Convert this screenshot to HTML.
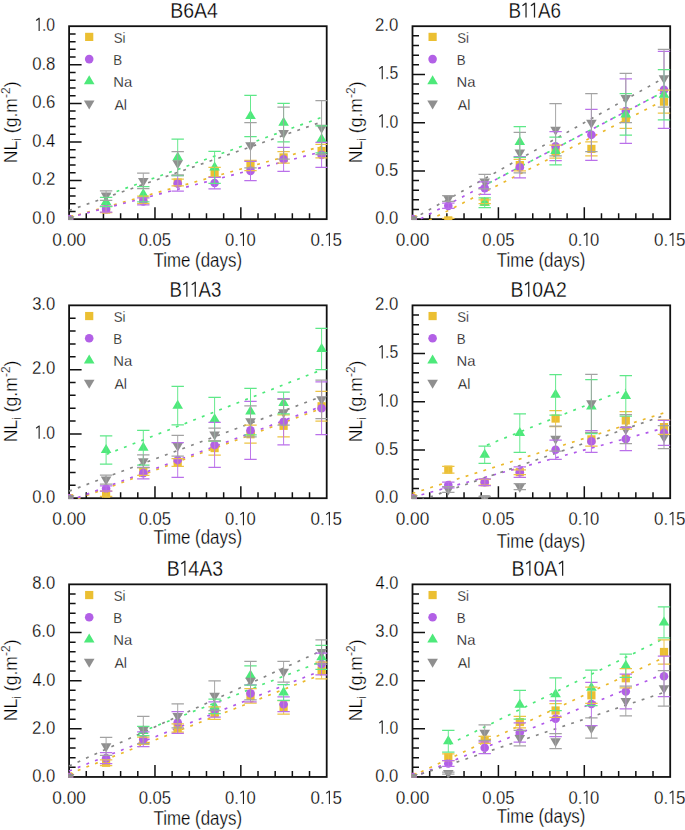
<!DOCTYPE html><html><head><meta charset="utf-8"><style>html,body{margin:0;padding:0;background:#fff;}body{width:685px;height:830px;overflow:hidden;}svg{display:block;}text{font-family:"Liberation Sans",sans-serif;fill:#000000;stroke:#fff;stroke-width:0.28px;}</style></head><body>
<svg width="685" height="830" viewBox="0 0 685 830">
<rect width="685" height="830" fill="#fff"/>
<defs><clipPath id="c0"><rect x="68.2" y="25.3" width="259.4" height="194.75"/></clipPath><clipPath id="c1"><rect x="411.6" y="25.3" width="259.5" height="194.75"/></clipPath><clipPath id="c2"><rect x="68.2" y="304.45" width="259.4" height="194.65"/></clipPath><clipPath id="c3"><rect x="411.6" y="304.45" width="259.5" height="194.65"/></clipPath><clipPath id="c4"><rect x="68.2" y="583.45" width="259.4" height="194.4"/></clipPath><clipPath id="c5"><rect x="411.6" y="583.45" width="259.5" height="194.4"/></clipPath></defs>
<path d="M69.1 211.43H75.6M69.1 203.71H75.6M69.1 196H75.6M69.1 188.28H75.6M69.1 180.56H81.6M69.1 172.84H75.6M69.1 165.12H75.6M69.1 157.41H75.6M69.1 149.69H75.6M69.1 141.97H81.6M69.1 134.25H75.6M69.1 126.53H75.6M69.1 118.82H75.6M69.1 111.1H75.6M69.1 103.38H81.6M69.1 95.66H75.6M69.1 87.94H75.6M69.1 80.23H75.6M69.1 72.51H75.6M69.1 64.79H81.6M69.1 57.07H75.6M69.1 49.35H75.6M69.1 41.64H75.6M69.1 33.92H75.6M86.27 219.15V213.15M103.45 219.15V213.15M120.62 219.15V213.15M137.79 219.15V213.15M154.97 219.15V207.15M172.14 219.15V213.15M189.31 219.15V213.15M206.49 219.15V213.15M223.66 219.15V213.15M240.83 219.15V207.15M258.01 219.15V213.15M275.18 219.15V213.15M292.35 219.15V213.15M309.53 219.15V213.15" stroke="#111111" stroke-width="1.5" fill="none"/><rect x="69.1" y="26.2" width="257.6" height="192.95" fill="none" stroke="#111111" stroke-width="1.8"/><g clip-path="url(#c0)" fill="none" stroke-width="1.65" stroke-dasharray="2.9 6.4"><path d="M69.1 217.32L321.6 146.39" stroke="#EBB92C"/><path d="M69.1 217.61L321.6 151.79" stroke="#B058EA"/><path d="M106.1 195.34L321.6 117.38" stroke="#4DE97A" stroke-dashoffset="7.44"/><path d="M69.1 210.47L321.6 121.95" stroke="#858585"/></g><g clip-path="url(#c0)"><rect x="65" y="215.05" width="8.2" height="8.2" fill="#EBBF32"/><rect x="102" y="205.4" width="8.2" height="8.2" fill="#EBBF32"/><rect x="139.2" y="195.76" width="8.2" height="8.2" fill="#EBBF32"/><rect x="173.6" y="178.39" width="8.2" height="8.2" fill="#EBBF32"/><rect x="210.5" y="167.78" width="8.2" height="8.2" fill="#EBBF32"/><rect x="246.4" y="161.41" width="8.2" height="8.2" fill="#EBBF32"/><rect x="279.5" y="153.31" width="8.2" height="8.2" fill="#EBBF32"/><rect x="317.5" y="146.94" width="8.2" height="8.2" fill="#EBBF32"/><circle cx="69.1" cy="219.15" r="4.3" fill="#B260E6"/><circle cx="106.1" cy="209.12" r="4.3" fill="#B260E6"/><circle cx="143.3" cy="201.4" r="4.3" fill="#B260E6"/><circle cx="177.7" cy="183.45" r="4.3" fill="#B260E6"/><circle cx="214.6" cy="183.07" r="4.3" fill="#B260E6"/><circle cx="250.5" cy="170.91" r="4.3" fill="#B260E6"/><circle cx="283.6" cy="159.34" r="4.3" fill="#B260E6"/><circle cx="321.6" cy="154.9" r="4.3" fill="#B260E6"/><path d="M106.1 195.98L111.4 204.98L100.8 204.98Z" fill="#4DE97A"/><path d="M143.3 188.26L148.6 197.26L138 197.26Z" fill="#4DE97A"/><path d="M177.7 151.41L183 160.41L172.4 160.41Z" fill="#4DE97A"/><path d="M214.6 161.44L219.9 170.44L209.3 170.44Z" fill="#4DE97A"/><path d="M250.5 109.92L255.8 118.92L245.2 118.92Z" fill="#4DE97A"/><path d="M283.6 116.67L288.9 125.67L278.3 125.67Z" fill="#4DE97A"/><path d="M321.6 133.27L326.9 142.27L316.3 142.27Z" fill="#4DE97A"/><path d="M63.8 216.15L74.4 216.15L69.1 225.15Z" fill="#8F8F8F"/><path d="M100.8 192.61L111.4 192.61L106.1 201.61Z" fill="#8F8F8F"/><path d="M138 177.95L148.6 177.95L143.3 186.95Z" fill="#8F8F8F"/><path d="M172.4 160.19L183 160.19L177.7 169.19Z" fill="#8F8F8F"/><path d="M245.2 142.25L255.8 142.25L250.5 151.25Z" fill="#8F8F8F"/><path d="M278.3 130.09L288.9 130.09L283.6 139.09Z" fill="#8F8F8F"/><path d="M316.3 124.69L326.9 124.69L321.6 133.69Z" fill="#8F8F8F"/></g><g clip-path="url(#c0)" fill="none"><path d="M106.1 206.42V212.59M143.3 196V203.71M177.7 179.02V185.96M214.6 167.25V176.51M250.5 160.3V170.72M283.6 151.62V163.19M321.6 144.29V157.79" stroke="#EDC445" stroke-width="0.95"/><path d="M99.9 206.42H112.3M99.9 212.59H112.3M137.1 196H149.5M137.1 203.71H149.5M171.5 179.02H183.9M171.5 185.96H183.9M208.4 167.25H220.8M208.4 176.51H220.8M244.3 160.3H256.7M244.3 170.72H256.7M277.4 151.62H289.8M277.4 163.19H289.8M315.4 144.29H327.8M315.4 157.79H327.8" stroke="#EDC445" stroke-width="1.25"/><path d="M106.1 206.22V212.01M143.3 197.93V204.87M177.7 175.74V191.17M214.6 177.28V188.86M250.5 161.26V180.56M283.6 147.37V171.3M321.6 142.36V167.44" stroke="#BA70EA" stroke-width="0.95"/><path d="M99.9 206.22H112.3M99.9 212.01H112.3M137.1 197.93H149.5M137.1 204.87H149.5M171.5 175.74H183.9M171.5 191.17H183.9M208.4 177.28H220.8M208.4 188.86H220.8M244.3 161.26H256.7M244.3 180.56H256.7M277.4 147.37H289.8M277.4 171.3H289.8M315.4 142.36H327.8M315.4 167.44H327.8" stroke="#BA70EA" stroke-width="1.25"/><path d="M106.1 197.35V206.61M143.3 186.54V201.98M177.7 139.08V175.74M214.6 151.42V183.45M250.5 95.28V136.57M283.6 103.38V141.97M321.6 125.76V152.78" stroke="#5EE888" stroke-width="0.95"/><path d="M99.9 197.35H112.3M99.9 206.61H112.3M137.1 186.54H149.5M137.1 201.98H149.5M171.5 139.08H183.9M171.5 175.74H183.9M208.4 151.42H220.8M208.4 183.45H220.8M244.3 95.28H256.7M244.3 136.57H256.7M277.4 103.38H289.8M277.4 141.97H289.8M315.4 125.76H327.8M315.4 152.78H327.8" stroke="#5EE888" stroke-width="1.25"/><path d="M106.1 190.79V200.43M143.3 173.23V188.66M177.7 151.62V174.77M250.5 122.67V167.83M283.6 107.05V159.14M321.6 100.68V154.7" stroke="#A2A2A2" stroke-width="0.95"/><path d="M99.9 190.79H112.3M99.9 200.43H112.3M137.1 173.23H149.5M137.1 188.66H149.5M171.5 151.62H183.9M171.5 174.77H183.9M244.3 122.67H256.7M244.3 167.83H256.7M277.4 107.05H289.8M277.4 159.14H289.8M315.4 100.68H327.8M315.4 154.7H327.8" stroke="#A2A2A2" stroke-width="1.25"/></g><text x="32.13" y="224" font-size="19.2" textLength="23.13" lengthAdjust="spacingAndGlyphs">0.0</text><text x="32.13" y="185.41" font-size="19.2" textLength="23.31" lengthAdjust="spacingAndGlyphs">0.2</text><text x="32.14" y="146.82" font-size="19.2" textLength="22.96" lengthAdjust="spacingAndGlyphs">0.4</text><text x="32.13" y="108.23" font-size="19.2" textLength="23.31" lengthAdjust="spacingAndGlyphs">0.6</text><text x="32.13" y="69.64" font-size="19.2" textLength="23.31" lengthAdjust="spacingAndGlyphs">0.8</text><path d="M36.16 20.49L39.15 18.19M39.15 17.8V31.05" stroke="#222" stroke-width="1.11" fill="none"/><text x="41.99" y="31.05" font-size="19.2" textLength="13.15" lengthAdjust="spacingAndGlyphs">.0</text><text x="52.26" y="246.1" font-size="19.2" textLength="33.62" lengthAdjust="spacingAndGlyphs">0.00</text><text x="138.7" y="246.1" font-size="19.2" textLength="32.47" lengthAdjust="spacingAndGlyphs">0.05</text><text x="225.12" y="246.1" font-size="19.2" textLength="13.85" lengthAdjust="spacingAndGlyphs">0.</text><path d="M240.3 235.54L243.46 233.24M243.46 232.85V246.1" stroke="#222" stroke-width="1.11" fill="none"/><text x="246.45" y="246.1" font-size="19.2" textLength="9.24" lengthAdjust="spacingAndGlyphs">0</text><text x="310.62" y="246.1" font-size="19.2" textLength="14.18" lengthAdjust="spacingAndGlyphs">0.</text><path d="M326.16 235.54L329.4 233.24M329.4 232.85V246.1" stroke="#222" stroke-width="1.11" fill="none"/><text x="332.46" y="246.1" font-size="19.2" textLength="9.46" lengthAdjust="spacingAndGlyphs">5</text><text x="170.24" y="17.6" font-size="21.6" textLength="47.67" lengthAdjust="spacingAndGlyphs">B6A4</text><text x="153.46" y="266.95" font-size="19.5" textLength="88.57" lengthAdjust="spacingAndGlyphs">Time (days)</text><text transform="translate(16.9 122.38) rotate(-90)" font-size="17.6" text-anchor="middle">NL<tspan font-size="12" dy="4">i</tspan><tspan dy="-4"> (g.m</tspan><tspan font-size="12" dy="-7">-2</tspan><tspan dy="7">)</tspan></text><rect x="85.1" y="32.8" width="8.2" height="8.2" fill="#EBBF32"/><text x="113.74" y="42.8" font-size="15" textLength="11.74" lengthAdjust="spacingAndGlyphs">Si</text><circle cx="89.2" cy="59.1" r="4.3" fill="#B260E6"/><text x="113.33" y="65.07" font-size="15" textLength="8.89" lengthAdjust="spacingAndGlyphs">B</text><path d="M89.2 75.3L94.5 84.3L83.9 84.3Z" fill="#4DE97A"/><text x="113.21" y="87.34" font-size="15" textLength="18.96" lengthAdjust="spacingAndGlyphs">Na</text><path d="M83.9 100.5L94.5 100.5L89.2 109.5Z" fill="#8F8F8F"/><text x="114.4" y="109.61" font-size="15" textLength="12.64" lengthAdjust="spacingAndGlyphs">Al</text>
<path d="M412.5 209.5H419M412.5 199.86H419M412.5 190.21H419M412.5 180.56H419M412.5 170.91H425M412.5 161.26H419M412.5 151.62H419M412.5 141.97H419M412.5 132.32H419M412.5 122.67H425M412.5 113.03H419M412.5 103.38H419M412.5 93.73H419M412.5 84.08H419M412.5 74.44H425M412.5 64.79H419M412.5 55.14H419M412.5 45.49H419M412.5 35.85H419M429.68 219.15V213.15M446.86 219.15V213.15M464.04 219.15V213.15M481.22 219.15V213.15M498.4 219.15V207.15M515.58 219.15V213.15M532.76 219.15V213.15M549.94 219.15V213.15M567.12 219.15V213.15M584.3 219.15V207.15M601.48 219.15V213.15M618.66 219.15V213.15M635.84 219.15V213.15M653.02 219.15V213.15" stroke="#111111" stroke-width="1.5" fill="none"/><rect x="412.5" y="26.2" width="257.7" height="192.95" fill="none" stroke="#111111" stroke-width="1.8"/><g clip-path="url(#c1)" fill="none" stroke-width="1.65" stroke-dasharray="2.9 6.4"><path d="M412.5 228.8L664 100.28" stroke="#EBB92C"/><path d="M412.5 223.01L664 91.66" stroke="#B058EA"/><path d="M484.7 185.3L664 91.66" stroke="#4DE97A" stroke-dashoffset="4.15"/><path d="M412.5 219.15L664 77.92" stroke="#858585"/></g><g clip-path="url(#c1)"><rect x="408.4" y="215.05" width="8.2" height="8.2" fill="#EBBF32"/><rect x="444.2" y="216.3" width="8.2" height="8.2" fill="#EBBF32"/><rect x="480.6" y="197.68" width="8.2" height="8.2" fill="#EBBF32"/><rect x="515.7" y="161.02" width="8.2" height="8.2" fill="#EBBF32"/><rect x="551.5" y="147.52" width="8.2" height="8.2" fill="#EBBF32"/><rect x="587.3" y="144.82" width="8.2" height="8.2" fill="#EBBF32"/><rect x="621.7" y="114.72" width="8.2" height="8.2" fill="#EBBF32"/><rect x="659.9" y="97.54" width="8.2" height="8.2" fill="#EBBF32"/><circle cx="412.5" cy="219.15" r="4.3" fill="#B260E6"/><circle cx="448.3" cy="205.84" r="4.3" fill="#B260E6"/><circle cx="484.7" cy="188.09" r="4.3" fill="#B260E6"/><circle cx="519.8" cy="167.34" r="4.3" fill="#B260E6"/><circle cx="555.6" cy="146.21" r="4.3" fill="#B260E6"/><circle cx="591.4" cy="134.83" r="4.3" fill="#B260E6"/><circle cx="625.8" cy="111.1" r="4.3" fill="#B260E6"/><circle cx="664" cy="89.87" r="4.3" fill="#B260E6"/><path d="M484.7 196.75L490 205.75L479.4 205.75Z" fill="#4DE97A"/><path d="M519.8 135.97L525.1 144.97L514.5 144.97Z" fill="#4DE97A"/><path d="M555.6 144.94L560.9 153.94L550.3 153.94Z" fill="#4DE97A"/><path d="M625.8 108.38L631.1 117.38L620.5 117.38Z" fill="#4DE97A"/><path d="M664 88.7L669.3 97.7L658.7 97.7Z" fill="#4DE97A"/><path d="M407.2 216.15L417.8 216.15L412.5 225.15Z" fill="#8F8F8F"/><path d="M443 195.41L453.6 195.41L448.3 204.41Z" fill="#8F8F8F"/><path d="M479.4 178.62L490 178.62L484.7 187.62Z" fill="#8F8F8F"/><path d="M514.5 149.58L525.1 149.58L519.8 158.58Z" fill="#8F8F8F"/><path d="M550.3 126.72L560.9 126.72L555.6 135.72Z" fill="#8F8F8F"/><path d="M586.1 119.67L596.7 119.67L591.4 128.68Z" fill="#8F8F8F"/><path d="M620.5 95.07L631.1 95.07L625.8 104.07Z" fill="#8F8F8F"/><path d="M658.7 75.3L669.3 75.3L664 84.3Z" fill="#8F8F8F"/></g><g clip-path="url(#c1)" fill="none"><path d="M448.3 218.47V222.33M484.7 199.86V203.71M519.8 159.34V170.91M555.6 145.15V158.08M591.4 141.97V155.86M625.8 109.17V128.46M664 90.07V113.22" stroke="#EDC445" stroke-width="0.95"/><path d="M442.1 218.47H454.5M442.1 222.33H454.5M478.5 199.86H490.9M478.5 203.71H490.9M513.6 159.34H526M513.6 170.91H526M549.4 145.15H561.8M549.4 158.08H561.8M585.2 141.97H597.6M585.2 155.86H597.6M619.6 109.17H632M619.6 128.46H632M657.8 90.07H670.2M657.8 113.22H670.2" stroke="#EDC445" stroke-width="1.25"/><path d="M448.3 203.23V208.44M484.7 181.81V194.36M519.8 156.73V177.96M555.6 131.74V160.69M591.4 109.26V160.4M625.8 78.78V143.42M664 51.28V128.46" stroke="#BA70EA" stroke-width="0.95"/><path d="M442.1 203.23H454.5M442.1 208.44H454.5M478.5 181.81H490.9M478.5 194.36H490.9M513.6 156.73H526M513.6 177.96H526M549.4 131.74H561.8M549.4 160.69H561.8M585.2 109.26H597.6M585.2 160.4H597.6M619.6 78.78H632M619.6 143.42H632M657.8 51.28H670.2M657.8 128.46H670.2" stroke="#BA70EA" stroke-width="1.25"/><path d="M484.7 197.93V207.57M519.8 126.53V157.41M555.6 137.05V164.83M625.8 93.64V135.12M664 69.61V119.78" stroke="#5EE888" stroke-width="0.95"/><path d="M478.5 197.93H490.9M478.5 207.57H490.9M513.6 126.53H526M513.6 157.41H526M549.4 137.05H561.8M549.4 164.83H561.8M619.6 93.64H632M619.6 135.12H632M657.8 69.61H670.2M657.8 119.78H670.2" stroke="#5EE888" stroke-width="1.25"/><path d="M448.3 195.51V201.3M484.7 174.29V188.95M519.8 132.32V172.84M555.6 103.67V155.77M591.4 93.73V151.62M625.8 73.47V122.68M664 49.35V107.24" stroke="#A2A2A2" stroke-width="0.95"/><path d="M442.1 195.51H454.5M442.1 201.3H454.5M478.5 174.29H490.9M478.5 188.95H490.9M513.6 132.32H526M513.6 172.84H526M549.4 103.67H561.8M549.4 155.77H561.8M585.2 93.73H597.6M585.2 151.62H597.6M619.6 73.47H632M619.6 122.68H632M657.8 49.35H670.2M657.8 107.24H670.2" stroke="#A2A2A2" stroke-width="1.25"/></g><text x="375.23" y="224" font-size="19.2" textLength="23.13" lengthAdjust="spacingAndGlyphs">0.0</text><text x="375.23" y="175.76" font-size="19.2" textLength="23.13" lengthAdjust="spacingAndGlyphs">0.5</text><path d="M379.26 116.96L382.25 114.66M382.25 114.28V127.52" stroke="#222" stroke-width="1.11" fill="none"/><text x="385.09" y="127.52" font-size="19.2" textLength="13.15" lengthAdjust="spacingAndGlyphs">.0</text><path d="M379.26 68.73L382.25 66.42M382.25 66.04V79.29" stroke="#222" stroke-width="1.11" fill="none"/><text x="385.09" y="79.29" font-size="19.2" textLength="13.15" lengthAdjust="spacingAndGlyphs">.5</text><text x="375.06" y="31.05" font-size="19.2" textLength="23.31" lengthAdjust="spacingAndGlyphs">2.0</text><text x="395.66" y="246.1" font-size="19.2" textLength="33.62" lengthAdjust="spacingAndGlyphs">0.00</text><text x="482.13" y="246.1" font-size="19.2" textLength="32.47" lengthAdjust="spacingAndGlyphs">0.05</text><text x="568.59" y="246.1" font-size="19.2" textLength="13.85" lengthAdjust="spacingAndGlyphs">0.</text><path d="M583.77 235.54L586.92 233.24M586.92 232.85V246.1" stroke="#222" stroke-width="1.11" fill="none"/><text x="589.91" y="246.1" font-size="19.2" textLength="9.24" lengthAdjust="spacingAndGlyphs">0</text><text x="654.12" y="246.1" font-size="19.2" textLength="14.18" lengthAdjust="spacingAndGlyphs">0.</text><path d="M669.66 235.54L672.9 233.24M672.9 232.85V246.1" stroke="#222" stroke-width="1.11" fill="none"/><text x="675.96" y="246.1" font-size="19.2" textLength="9.46" lengthAdjust="spacingAndGlyphs">5</text><text x="508.39" y="17.6" font-size="21.6" textLength="12.55" lengthAdjust="spacingAndGlyphs">B</text><path d="M522.45 5.72L526.03 3.13M526.03 2.7V17.6" stroke="#222" stroke-width="1.25" fill="none"/><path d="M530.92 5.72L534.5 3.13M534.5 2.7V17.6" stroke="#222" stroke-width="1.25" fill="none"/><text x="537.89" y="17.6" font-size="21.6" textLength="23.02" lengthAdjust="spacingAndGlyphs">A6</text><text x="496.86" y="266.95" font-size="19.5" textLength="88.57" lengthAdjust="spacingAndGlyphs">Time (days)</text><text transform="translate(361.6 122.38) rotate(-90)" font-size="17.6" text-anchor="middle">NL<tspan font-size="12" dy="4">i</tspan><tspan dy="-4"> (g.m</tspan><tspan font-size="12" dy="-7">-2</tspan><tspan dy="7">)</tspan></text><rect x="428.5" y="32.8" width="8.2" height="8.2" fill="#EBBF32"/><text x="457.14" y="42.8" font-size="15" textLength="11.74" lengthAdjust="spacingAndGlyphs">Si</text><circle cx="432.6" cy="59.1" r="4.3" fill="#B260E6"/><text x="456.73" y="65.07" font-size="15" textLength="8.89" lengthAdjust="spacingAndGlyphs">B</text><path d="M432.6 75.3L437.9 84.3L427.3 84.3Z" fill="#4DE97A"/><text x="456.61" y="87.34" font-size="15" textLength="18.96" lengthAdjust="spacingAndGlyphs">Na</text><path d="M427.3 100.5L437.9 100.5L432.6 109.5Z" fill="#8F8F8F"/><text x="457.8" y="109.61" font-size="15" textLength="12.64" lengthAdjust="spacingAndGlyphs">Al</text>
<path d="M69.1 485.34H75.6M69.1 472.49H75.6M69.1 459.63H75.6M69.1 446.77H75.6M69.1 433.92H81.6M69.1 421.06H75.6M69.1 408.2H75.6M69.1 395.35H75.6M69.1 382.49H75.6M69.1 369.63H81.6M69.1 356.78H75.6M69.1 343.92H75.6M69.1 331.06H75.6M69.1 318.21H75.6M86.27 498.2V492.2M103.45 498.2V492.2M120.62 498.2V492.2M137.79 498.2V492.2M154.97 498.2V486.2M172.14 498.2V492.2M189.31 498.2V492.2M206.49 498.2V492.2M223.66 498.2V492.2M240.83 498.2V486.2M258.01 498.2V492.2M275.18 498.2V492.2M292.35 498.2V492.2M309.53 498.2V492.2" stroke="#111111" stroke-width="1.5" fill="none"/><rect x="69.1" y="305.35" width="257.6" height="192.85" fill="none" stroke="#111111" stroke-width="1.8"/><g clip-path="url(#c2)" fill="none" stroke-width="1.65" stroke-dasharray="2.9 6.4"><path d="M69.1 502.06L321.6 408.49" stroke="#EBB92C"/><path d="M69.1 500.9L321.6 406.38" stroke="#B058EA"/><path d="M106.1 454.49L321.6 369.87" stroke="#4DE97A" stroke-dashoffset="8.71"/><path d="M69.1 491.13L321.6 396.61" stroke="#858585"/></g><g clip-path="url(#c2)"><rect x="65" y="494.1" width="8.2" height="8.2" fill="#EBBF32"/><rect x="102" y="489.6" width="8.2" height="8.2" fill="#EBBF32"/><rect x="139.2" y="467.49" width="8.2" height="8.2" fill="#EBBF32"/><rect x="173.6" y="458.42" width="8.2" height="8.2" fill="#EBBF32"/><rect x="210.5" y="443.96" width="8.2" height="8.2" fill="#EBBF32"/><rect x="246.4" y="430.14" width="8.2" height="8.2" fill="#EBBF32"/><rect x="279.5" y="421.72" width="8.2" height="8.2" fill="#EBBF32"/><rect x="317.5" y="402.17" width="8.2" height="8.2" fill="#EBBF32"/><circle cx="69.1" cy="498.2" r="4.3" fill="#B260E6"/><circle cx="106.1" cy="488.56" r="4.3" fill="#B260E6"/><circle cx="143.3" cy="473.13" r="4.3" fill="#B260E6"/><circle cx="177.7" cy="460.02" r="4.3" fill="#B260E6"/><circle cx="214.6" cy="444.97" r="4.3" fill="#B260E6"/><circle cx="250.5" cy="430.38" r="4.3" fill="#B260E6"/><circle cx="283.6" cy="421.7" r="4.3" fill="#B260E6"/><circle cx="321.6" cy="408.2" r="4.3" fill="#B260E6"/><path d="M106.1 443.99L111.4 452.99L100.8 452.99Z" fill="#4DE97A"/><path d="M143.3 441.74L148.6 450.74L138 450.74Z" fill="#4DE97A"/><path d="M177.7 399.63L183 408.63L172.4 408.63Z" fill="#4DE97A"/><path d="M214.6 413.32L219.9 422.32L209.3 422.32Z" fill="#4DE97A"/><path d="M250.5 405.61L255.8 414.61L245.2 414.61Z" fill="#4DE97A"/><path d="M283.6 397.06L288.9 406.06L278.3 406.06Z" fill="#4DE97A"/><path d="M321.6 343.06L326.9 352.06L316.3 352.06Z" fill="#4DE97A"/><path d="M63.8 495.2L74.4 495.2L69.1 504.2Z" fill="#8F8F8F"/><path d="M100.8 476.56L111.4 476.56L106.1 485.56Z" fill="#8F8F8F"/><path d="M138 458.24L148.6 458.24L143.3 467.24Z" fill="#8F8F8F"/><path d="M172.4 442.74L183 442.74L177.7 451.74Z" fill="#8F8F8F"/><path d="M209.3 431.56L219.9 431.56L214.6 440.56Z" fill="#8F8F8F"/><path d="M245.2 418.32L255.8 418.32L250.5 427.32Z" fill="#8F8F8F"/><path d="M278.3 409.19L288.9 409.19L283.6 418.19Z" fill="#8F8F8F"/><path d="M316.3 396.33L326.9 396.33L321.6 405.33Z" fill="#8F8F8F"/></g><g clip-path="url(#c2)" fill="none"><path d="M106.1 491.13V496.27M143.3 467.73V475.44M177.7 458.67V466.38M214.6 440.99V455.13M250.5 425.24V443.24M283.6 414.89V436.75M321.6 391.49V421.06" stroke="#EDC445" stroke-width="0.95"/><path d="M99.9 491.13H112.3M99.9 496.27H112.3M137.1 467.73H149.5M137.1 475.44H149.5M171.5 458.67H183.9M171.5 466.38H183.9M208.4 440.99H220.8M208.4 455.13H220.8M244.3 425.24H256.7M244.3 443.24H256.7M277.4 414.89H289.8M277.4 436.75H289.8M315.4 391.49H327.8M315.4 421.06H327.8" stroke="#EDC445" stroke-width="1.25"/><path d="M106.1 485.99V491.13M143.3 467.34V478.91M177.7 442.66V477.37M214.6 422.47V467.47M250.5 401.45V459.31M283.6 398.56V444.84M321.6 381.85V434.56" stroke="#BA70EA" stroke-width="0.95"/><path d="M99.9 485.99H112.3M99.9 491.13H112.3M137.1 467.34H149.5M137.1 478.91H149.5M171.5 442.66H183.9M171.5 477.37H183.9M208.4 422.47H220.8M208.4 467.47H220.8M244.3 401.45H256.7M244.3 459.31H256.7M277.4 398.56H289.8M277.4 444.84H289.8M315.4 381.85H327.8M315.4 434.56H327.8" stroke="#BA70EA" stroke-width="1.25"/><path d="M106.1 435.85V464.13M143.3 430.38V465.09M177.7 386.35V424.92M214.6 397.47V441.18M250.5 388.47V434.75M283.6 392.13V413.99M321.6 328.49V369.63" stroke="#5EE888" stroke-width="0.95"/><path d="M99.9 435.85H112.3M99.9 464.13H112.3M137.1 430.38H149.5M137.1 465.09H149.5M171.5 386.35H183.9M171.5 424.92H183.9M208.4 397.47H220.8M208.4 441.18H220.8M244.3 388.47H256.7M244.3 434.75H256.7M277.4 392.13H289.8M277.4 413.99H289.8M315.4 328.49H327.8M315.4 369.63H327.8" stroke="#5EE888" stroke-width="1.25"/><path d="M106.1 475.06V484.06M143.3 454.81V467.67M177.7 435.46V456.03M214.6 428.13V440.99M250.5 405.89V436.75M283.6 399.33V425.05M321.6 380.05V418.62" stroke="#A2A2A2" stroke-width="0.95"/><path d="M99.9 475.06H112.3M99.9 484.06H112.3M137.1 454.81H149.5M137.1 467.67H149.5M171.5 435.46H183.9M171.5 456.03H183.9M208.4 428.13H220.8M208.4 440.99H220.8M244.3 405.89H256.7M244.3 436.75H256.7M277.4 399.33H289.8M277.4 425.05H289.8M315.4 380.05H327.8M315.4 418.62H327.8" stroke="#A2A2A2" stroke-width="1.25"/></g><text x="32.13" y="503.05" font-size="19.2" textLength="23.13" lengthAdjust="spacingAndGlyphs">0.0</text><path d="M36.16 428.21L39.15 425.9M39.15 425.52V438.77" stroke="#222" stroke-width="1.11" fill="none"/><text x="41.99" y="438.77" font-size="19.2" textLength="13.15" lengthAdjust="spacingAndGlyphs">.0</text><text x="31.96" y="374.48" font-size="19.2" textLength="23.31" lengthAdjust="spacingAndGlyphs">2.0</text><text x="32.13" y="310.2" font-size="19.2" textLength="23.13" lengthAdjust="spacingAndGlyphs">3.0</text><text x="52.26" y="525.15" font-size="19.2" textLength="33.62" lengthAdjust="spacingAndGlyphs">0.00</text><text x="138.7" y="525.15" font-size="19.2" textLength="32.47" lengthAdjust="spacingAndGlyphs">0.05</text><text x="225.12" y="525.15" font-size="19.2" textLength="13.85" lengthAdjust="spacingAndGlyphs">0.</text><path d="M240.3 514.59L243.46 512.29M243.46 511.9V525.15" stroke="#222" stroke-width="1.11" fill="none"/><text x="246.45" y="525.15" font-size="19.2" textLength="9.24" lengthAdjust="spacingAndGlyphs">0</text><text x="310.62" y="525.15" font-size="19.2" textLength="14.18" lengthAdjust="spacingAndGlyphs">0.</text><path d="M326.16 514.59L329.4 512.29M329.4 511.9V525.15" stroke="#222" stroke-width="1.11" fill="none"/><text x="332.46" y="525.15" font-size="19.2" textLength="9.46" lengthAdjust="spacingAndGlyphs">5</text><text x="169.41" y="296.75" font-size="21.6" textLength="12.43" lengthAdjust="spacingAndGlyphs">B</text><path d="M183.33 284.87L186.87 282.28M186.87 281.85V296.75" stroke="#222" stroke-width="1.25" fill="none"/><path d="M191.72 284.87L195.26 282.28M195.26 281.85V296.75" stroke="#222" stroke-width="1.25" fill="none"/><text x="198.61" y="296.75" font-size="21.6" textLength="22.79" lengthAdjust="spacingAndGlyphs">A3</text><text x="153.46" y="543.6" font-size="19.5" textLength="88.57" lengthAdjust="spacingAndGlyphs">Time (days)</text><text transform="translate(16.9 401.47) rotate(-90)" font-size="17.6" text-anchor="middle">NL<tspan font-size="12" dy="4">i</tspan><tspan dy="-4"> (g.m</tspan><tspan font-size="12" dy="-7">-2</tspan><tspan dy="7">)</tspan></text><rect x="85.1" y="311.95" width="8.2" height="8.2" fill="#EBBF32"/><text x="113.74" y="321.95" font-size="15" textLength="11.74" lengthAdjust="spacingAndGlyphs">Si</text><circle cx="89.2" cy="338.25" r="4.3" fill="#B260E6"/><text x="113.33" y="344.22" font-size="15" textLength="8.89" lengthAdjust="spacingAndGlyphs">B</text><path d="M89.2 354.45L94.5 363.45L83.9 363.45Z" fill="#4DE97A"/><text x="113.21" y="366.49" font-size="15" textLength="18.96" lengthAdjust="spacingAndGlyphs">Na</text><path d="M83.9 379.65L94.5 379.65L89.2 388.65Z" fill="#8F8F8F"/><text x="114.4" y="388.76" font-size="15" textLength="12.64" lengthAdjust="spacingAndGlyphs">Al</text>
<path d="M412.5 488.56H419M412.5 478.91H419M412.5 469.27H419M412.5 459.63H419M412.5 449.99H425M412.5 440.34H419M412.5 430.7H419M412.5 421.06H419M412.5 411.42H419M412.5 401.77H425M412.5 392.13H419M412.5 382.49H419M412.5 372.85H419M412.5 363.21H419M412.5 353.56H425M412.5 343.92H419M412.5 334.28H419M412.5 324.63H419M412.5 314.99H419M429.68 498.2V492.2M446.86 498.2V492.2M464.04 498.2V492.2M481.22 498.2V492.2M498.4 498.2V486.2M515.58 498.2V492.2M532.76 498.2V492.2M549.94 498.2V492.2M567.12 498.2V492.2M584.3 498.2V486.2M601.48 498.2V492.2M618.66 498.2V492.2M635.84 498.2V492.2M653.02 498.2V492.2" stroke="#111111" stroke-width="1.5" fill="none"/><rect x="412.5" y="305.35" width="257.7" height="192.85" fill="none" stroke="#111111" stroke-width="1.8"/><g clip-path="url(#c3)" fill="none" stroke-width="1.65" stroke-dasharray="2.9 6.4"><path d="M412.5 493.38L664 412.92" stroke="#EBB92C"/><path d="M412.5 497.24L664 428.07" stroke="#B058EA"/><path d="M484.7 446.04L625.8 389.34" stroke="#4DE97A" stroke-dashoffset="6.88"/><path d="M412.5 503.02L664 415.5" stroke="#858585"/></g><g clip-path="url(#c3)"><rect x="408.4" y="494.1" width="8.2" height="8.2" fill="#EBBF32"/><rect x="444.2" y="465.56" width="8.2" height="8.2" fill="#EBBF32"/><rect x="480.6" y="478.19" width="8.2" height="8.2" fill="#EBBF32"/><rect x="515.7" y="468.07" width="8.2" height="8.2" fill="#EBBF32"/><rect x="551.5" y="414.45" width="8.2" height="8.2" fill="#EBBF32"/><rect x="587.3" y="435.28" width="8.2" height="8.2" fill="#EBBF32"/><rect x="621.7" y="416.29" width="8.2" height="8.2" fill="#EBBF32"/><rect x="659.9" y="423.03" width="8.2" height="8.2" fill="#EBBF32"/><circle cx="412.5" cy="498.2" r="4.3" fill="#B260E6"/><circle cx="448.3" cy="485.09" r="4.3" fill="#B260E6"/><circle cx="484.7" cy="482.29" r="4.3" fill="#B260E6"/><circle cx="519.8" cy="472.17" r="4.3" fill="#B260E6"/><circle cx="555.6" cy="449.79" r="4.3" fill="#B260E6"/><circle cx="591.4" cy="441.41" r="4.3" fill="#B260E6"/><circle cx="625.8" cy="439" r="4.3" fill="#B260E6"/><circle cx="664" cy="432.92" r="4.3" fill="#B260E6"/><path d="M484.7 448.81L490 457.81L479.4 457.81Z" fill="#4DE97A"/><path d="M519.8 427.11L525.1 436.11L514.5 436.11Z" fill="#4DE97A"/><path d="M555.6 388.83L560.9 397.83L550.3 397.83Z" fill="#4DE97A"/><path d="M591.4 400.6L596.7 409.6L586.1 409.6Z" fill="#4DE97A"/><path d="M625.8 389.99L631.1 398.99L620.5 398.99Z" fill="#4DE97A"/><path d="M407.2 495.2L417.8 495.2L412.5 504.2Z" fill="#8F8F8F"/><path d="M443 486.52L453.6 486.52L448.3 495.52Z" fill="#8F8F8F"/><path d="M479.4 495.2L490 495.2L484.7 504.2Z" fill="#8F8F8F"/><path d="M514.5 483.63L525.1 483.63L519.8 492.63Z" fill="#8F8F8F"/><path d="M550.3 435.71L560.9 435.71L555.6 444.71Z" fill="#8F8F8F"/><path d="M586.1 400.32L596.7 400.32L591.4 409.32Z" fill="#8F8F8F"/><path d="M620.5 426.16L631.1 426.16L625.8 435.16Z" fill="#8F8F8F"/><path d="M658.7 434.07L669.3 434.07L664 443.07Z" fill="#8F8F8F"/></g><g clip-path="url(#c3)" fill="none"><path d="M448.3 466.28V473.03M484.7 479.4V485.18M519.8 469.75V474.58M555.6 410.55V426.56M591.4 432.63V446.13M625.8 411.71V429.06M664 419.9V434.37" stroke="#EDC445" stroke-width="0.95"/><path d="M442.1 466.28H454.5M442.1 473.03H454.5M478.5 479.4H490.9M478.5 485.18H490.9M513.6 469.75H526M513.6 474.58H526M549.4 410.55H561.8M549.4 426.56H561.8M585.2 432.63H597.6M585.2 446.13H597.6M619.6 411.71H632M619.6 429.06H632M657.8 419.9H670.2M657.8 434.37H670.2" stroke="#EDC445" stroke-width="1.25"/><path d="M448.3 482.19V487.98M484.7 478.91V485.66M519.8 466.86V477.47M555.6 440.15V459.44M591.4 430.51V452.3M625.8 427.42V450.57M664 420.39V445.46" stroke="#BA70EA" stroke-width="0.95"/><path d="M442.1 482.19H454.5M442.1 487.98H454.5M478.5 478.91H490.9M478.5 485.66H490.9M513.6 466.86H526M513.6 477.47H526M549.4 440.15H561.8M549.4 459.44H561.8M585.2 430.51H597.6M585.2 452.3H597.6M619.6 427.42H632M619.6 450.57H632M657.8 420.39H670.2M657.8 445.46H670.2" stroke="#BA70EA" stroke-width="1.25"/><path d="M484.7 446.13V463.49M519.8 413.83V452.4M555.6 374.58V415.08M591.4 379.6V433.6M625.8 375.74V416.24" stroke="#5EE888" stroke-width="0.95"/><path d="M478.5 446.13H490.9M478.5 463.49H490.9M513.6 413.83H526M513.6 452.4H526M549.4 374.58H561.8M549.4 415.08H561.8M585.2 379.6H597.6M585.2 433.6H597.6M619.6 375.74H632M619.6 416.24H632" stroke="#5EE888" stroke-width="1.25"/><path d="M448.3 486.63V492.41M484.7 496.27V500.13M519.8 483.74V489.52M555.6 426.17V451.24M591.4 374.39V432.25M625.8 414.7V443.62M664 425.5V448.64" stroke="#A2A2A2" stroke-width="0.95"/><path d="M442.1 486.63H454.5M442.1 492.41H454.5M478.5 496.27H490.9M478.5 500.13H490.9M513.6 483.74H526M513.6 489.52H526M549.4 426.17H561.8M549.4 451.24H561.8M585.2 374.39H597.6M585.2 432.25H597.6M619.6 414.7H632M619.6 443.62H632M657.8 425.5H670.2M657.8 448.64H670.2" stroke="#A2A2A2" stroke-width="1.25"/></g><text x="375.23" y="503.05" font-size="19.2" textLength="23.13" lengthAdjust="spacingAndGlyphs">0.0</text><text x="375.23" y="454.84" font-size="19.2" textLength="23.13" lengthAdjust="spacingAndGlyphs">0.5</text><path d="M379.26 396.06L382.25 393.76M382.25 393.38V406.62" stroke="#222" stroke-width="1.11" fill="none"/><text x="385.09" y="406.62" font-size="19.2" textLength="13.15" lengthAdjust="spacingAndGlyphs">.0</text><path d="M379.26 347.85L382.25 345.55M382.25 345.16V358.41" stroke="#222" stroke-width="1.11" fill="none"/><text x="385.09" y="358.41" font-size="19.2" textLength="13.15" lengthAdjust="spacingAndGlyphs">.5</text><text x="375.06" y="310.2" font-size="19.2" textLength="23.31" lengthAdjust="spacingAndGlyphs">2.0</text><text x="395.66" y="525.15" font-size="19.2" textLength="33.62" lengthAdjust="spacingAndGlyphs">0.00</text><text x="482.13" y="525.15" font-size="19.2" textLength="32.47" lengthAdjust="spacingAndGlyphs">0.05</text><text x="568.59" y="525.15" font-size="19.2" textLength="13.85" lengthAdjust="spacingAndGlyphs">0.</text><path d="M583.77 514.59L586.92 512.29M586.92 511.9V525.15" stroke="#222" stroke-width="1.11" fill="none"/><text x="589.91" y="525.15" font-size="19.2" textLength="9.24" lengthAdjust="spacingAndGlyphs">0</text><text x="654.12" y="525.15" font-size="19.2" textLength="14.18" lengthAdjust="spacingAndGlyphs">0.</text><path d="M669.66 514.59L672.9 512.29M672.9 511.9V525.15" stroke="#222" stroke-width="1.11" fill="none"/><text x="675.96" y="525.15" font-size="19.2" textLength="9.46" lengthAdjust="spacingAndGlyphs">5</text><text x="510.55" y="296.75" font-size="21.6" textLength="12.94" lengthAdjust="spacingAndGlyphs">B</text><path d="M525.04 284.87L528.73 282.28M528.73 281.85V296.75" stroke="#222" stroke-width="1.25" fill="none"/><text x="532.23" y="296.75" font-size="21.6" textLength="34.53" lengthAdjust="spacingAndGlyphs">0A2</text><text x="496.86" y="548" font-size="19.5" textLength="88.57" lengthAdjust="spacingAndGlyphs">Time (days)</text><text transform="translate(361.6 401.47) rotate(-90)" font-size="17.6" text-anchor="middle">NL<tspan font-size="12" dy="4">i</tspan><tspan dy="-4"> (g.m</tspan><tspan font-size="12" dy="-7">-2</tspan><tspan dy="7">)</tspan></text><rect x="428.5" y="311.95" width="8.2" height="8.2" fill="#EBBF32"/><text x="457.14" y="321.95" font-size="15" textLength="11.74" lengthAdjust="spacingAndGlyphs">Si</text><circle cx="432.6" cy="338.25" r="4.3" fill="#B260E6"/><text x="456.73" y="344.22" font-size="15" textLength="8.89" lengthAdjust="spacingAndGlyphs">B</text><path d="M432.6 354.45L437.9 363.45L427.3 363.45Z" fill="#4DE97A"/><text x="456.61" y="366.49" font-size="15" textLength="18.96" lengthAdjust="spacingAndGlyphs">Na</text><path d="M427.3 379.65L437.9 379.65L432.6 388.65Z" fill="#8F8F8F"/><text x="457.8" y="388.76" font-size="15" textLength="12.64" lengthAdjust="spacingAndGlyphs">Al</text>
<path d="M69.1 767.32H75.6M69.1 757.69H75.6M69.1 748.06H75.6M69.1 738.43H75.6M69.1 728.8H81.6M69.1 719.17H75.6M69.1 709.54H75.6M69.1 699.91H75.6M69.1 690.28H75.6M69.1 680.65H81.6M69.1 671.02H75.6M69.1 661.39H75.6M69.1 651.76H75.6M69.1 642.13H75.6M69.1 632.5H81.6M69.1 622.87H75.6M69.1 613.24H75.6M69.1 603.61H75.6M69.1 593.98H75.6M86.27 776.95V770.95M103.45 776.95V770.95M120.62 776.95V770.95M137.79 776.95V770.95M154.97 776.95V764.95M172.14 776.95V770.95M189.31 776.95V770.95M206.49 776.95V770.95M223.66 776.95V770.95M240.83 776.95V764.95M258.01 776.95V770.95M275.18 776.95V770.95M292.35 776.95V770.95M309.53 776.95V770.95" stroke="#111111" stroke-width="1.5" fill="none"/><rect x="69.1" y="584.35" width="257.6" height="192.6" fill="none" stroke="#111111" stroke-width="1.8"/><g clip-path="url(#c4)" fill="none" stroke-width="1.65" stroke-dasharray="2.9 6.4"><path d="M69.1 773.92L321.6 674.45" stroke="#EBB92C"/><path d="M69.1 771.05L321.6 670.52" stroke="#B058EA"/><path d="M143.3 730.94L321.6 661.45" stroke="#4DE97A" stroke-dashoffset="2.56"/><path d="M69.1 766.04L321.6 650.72" stroke="#858585"/></g><g clip-path="url(#c4)"><rect x="65" y="772.85" width="8.2" height="8.2" fill="#EBBF32"/><rect x="102" y="758.65" width="8.2" height="8.2" fill="#EBBF32"/><rect x="139.2" y="736.74" width="8.2" height="8.2" fill="#EBBF32"/><rect x="173.6" y="723.98" width="8.2" height="8.2" fill="#EBBF32"/><rect x="210.5" y="709.05" width="8.2" height="8.2" fill="#EBBF32"/><rect x="246.4" y="691.72" width="8.2" height="8.2" fill="#EBBF32"/><rect x="279.5" y="703.27" width="8.2" height="8.2" fill="#EBBF32"/><rect x="317.5" y="666.44" width="8.2" height="8.2" fill="#EBBF32"/><circle cx="69.1" cy="776.95" r="4.3" fill="#B260E6"/><circle cx="106.1" cy="758.17" r="4.3" fill="#B260E6"/><circle cx="143.3" cy="739.27" r="4.3" fill="#B260E6"/><circle cx="177.7" cy="722.54" r="4.3" fill="#B260E6"/><circle cx="214.6" cy="709.54" r="4.3" fill="#B260E6"/><circle cx="250.5" cy="693.41" r="4.3" fill="#B260E6"/><circle cx="283.6" cy="704.24" r="4.3" fill="#B260E6"/><circle cx="321.6" cy="664.04" r="4.3" fill="#B260E6"/><path d="M143.3 724.97L148.6 733.97L138 733.97Z" fill="#4DE97A"/><path d="M214.6 700.41L219.9 709.41L209.3 709.41Z" fill="#4DE97A"/><path d="M250.5 669.59L255.8 678.59L245.2 678.59Z" fill="#4DE97A"/><path d="M283.6 686.45L288.9 695.45L278.3 695.45Z" fill="#4DE97A"/><path d="M321.6 651.3L326.9 660.3L316.3 660.3Z" fill="#4DE97A"/><path d="M63.8 773.95L74.4 773.95L69.1 782.95Z" fill="#8F8F8F"/><path d="M100.8 743.37L111.4 743.37L106.1 752.37Z" fill="#8F8F8F"/><path d="M138 727L148.6 727L143.3 736Z" fill="#8F8F8F"/><path d="M172.4 712.9L183 712.9L177.7 721.9Z" fill="#8F8F8F"/><path d="M209.3 692.82L219.9 692.82L214.6 701.82Z" fill="#8F8F8F"/><path d="M245.2 677.65L255.8 677.65L250.5 686.65Z" fill="#8F8F8F"/><path d="M278.3 668.74L288.9 668.74L283.6 677.74Z" fill="#8F8F8F"/><path d="M316.3 649L326.9 649L321.6 658Z" fill="#8F8F8F"/></g><g clip-path="url(#c4)" fill="none"><path d="M106.1 759.86V765.63M143.3 737.23V744.45M177.7 723.99V732.17M214.6 706.89V719.41M250.5 688.59V703.04M283.6 700.63V714.11M321.6 662.11V678.96" stroke="#EDC445" stroke-width="0.95"/><path d="M99.9 759.86H112.3M99.9 765.63H112.3M137.1 737.23H149.5M137.1 744.45H149.5M171.5 723.99H183.9M171.5 732.17H183.9M208.4 706.89H220.8M208.4 719.41H220.8M244.3 688.59H256.7M244.3 703.04H256.7M277.4 700.63H289.8M277.4 714.11H289.8M315.4 662.11H327.8M315.4 678.96H327.8" stroke="#EDC445" stroke-width="1.25"/><path d="M106.1 752.63V763.71M143.3 731.81V746.74M177.7 711.71V733.37M214.6 701.84V717.24M250.5 684.98V701.84M283.6 696.78V711.71M321.6 653.2V674.87" stroke="#BA70EA" stroke-width="0.95"/><path d="M99.9 752.63H112.3M99.9 763.71H112.3M137.1 731.81H149.5M137.1 746.74H149.5M171.5 711.71H183.9M171.5 733.37H183.9M208.4 701.84H220.8M208.4 717.24H220.8M244.3 684.98H256.7M244.3 701.84H256.7M277.4 696.78H289.8M277.4 711.71H289.8M315.4 653.2H327.8M315.4 674.87H327.8" stroke="#BA70EA" stroke-width="1.25"/><path d="M143.3 726.39V735.54M214.6 699.19V713.63M250.5 665.96V685.22M283.6 684.5V700.39M321.6 645.26V669.33" stroke="#5EE888" stroke-width="0.95"/><path d="M137.1 726.39H149.5M137.1 735.54H149.5M208.4 699.19H220.8M208.4 713.63H220.8M244.3 665.96H256.7M244.3 685.22H256.7M277.4 684.5H289.8M277.4 700.39H289.8M315.4 645.26H327.8M315.4 669.33H327.8" stroke="#5EE888" stroke-width="1.25"/><path d="M106.1 737.47V755.28M143.3 716.28V743.73M177.7 703.86V727.93M214.6 680.89V710.74M250.5 661.39V699.91M283.6 661.39V682.09M321.6 639.96V664.04" stroke="#A2A2A2" stroke-width="0.95"/><path d="M99.9 737.47H112.3M99.9 755.28H112.3M137.1 716.28H149.5M137.1 743.73H149.5M171.5 703.86H183.9M171.5 727.93H183.9M208.4 680.89H220.8M208.4 710.74H220.8M244.3 661.39H256.7M244.3 699.91H256.7M277.4 661.39H289.8M277.4 682.09H289.8M315.4 639.96H327.8M315.4 664.04H327.8" stroke="#A2A2A2" stroke-width="1.25"/></g><text x="32.13" y="781.8" font-size="19.2" textLength="23.13" lengthAdjust="spacingAndGlyphs">0.0</text><text x="31.96" y="733.65" font-size="19.2" textLength="23.31" lengthAdjust="spacingAndGlyphs">2.0</text><text x="32.47" y="685.5" font-size="19.2" textLength="22.79" lengthAdjust="spacingAndGlyphs">4.0</text><text x="31.96" y="637.35" font-size="19.2" textLength="23.31" lengthAdjust="spacingAndGlyphs">6.0</text><text x="32.13" y="589.2" font-size="19.2" textLength="23.13" lengthAdjust="spacingAndGlyphs">8.0</text><text x="52.26" y="803.9" font-size="19.2" textLength="33.62" lengthAdjust="spacingAndGlyphs">0.00</text><text x="138.7" y="803.9" font-size="19.2" textLength="32.47" lengthAdjust="spacingAndGlyphs">0.05</text><text x="225.12" y="803.9" font-size="19.2" textLength="13.85" lengthAdjust="spacingAndGlyphs">0.</text><path d="M240.3 793.34L243.46 791.04M243.46 790.65V803.9" stroke="#222" stroke-width="1.11" fill="none"/><text x="246.45" y="803.9" font-size="19.2" textLength="9.24" lengthAdjust="spacingAndGlyphs">0</text><text x="310.62" y="803.9" font-size="19.2" textLength="14.18" lengthAdjust="spacingAndGlyphs">0.</text><path d="M326.16 793.34L329.4 791.04M329.4 790.65V803.9" stroke="#222" stroke-width="1.11" fill="none"/><text x="332.46" y="803.9" font-size="19.2" textLength="9.46" lengthAdjust="spacingAndGlyphs">5</text><text x="166.64" y="575.75" font-size="21.6" textLength="12.97" lengthAdjust="spacingAndGlyphs">B</text><path d="M181.17 563.87L184.86 561.28M184.86 560.85V575.75" stroke="#222" stroke-width="1.25" fill="none"/><text x="188.36" y="575.75" font-size="21.6" textLength="34.6" lengthAdjust="spacingAndGlyphs">4A3</text><text x="153.46" y="824.55" font-size="19.5" textLength="88.57" lengthAdjust="spacingAndGlyphs">Time (days)</text><text transform="translate(16.9 680.35) rotate(-90)" font-size="17.6" text-anchor="middle">NL<tspan font-size="12" dy="4">i</tspan><tspan dy="-4"> (g.m</tspan><tspan font-size="12" dy="-7">-2</tspan><tspan dy="7">)</tspan></text><rect x="85.1" y="590.95" width="8.2" height="8.2" fill="#EBBF32"/><text x="113.74" y="600.95" font-size="15" textLength="11.74" lengthAdjust="spacingAndGlyphs">Si</text><circle cx="89.2" cy="617.25" r="4.3" fill="#B260E6"/><text x="113.33" y="623.22" font-size="15" textLength="8.89" lengthAdjust="spacingAndGlyphs">B</text><path d="M89.2 633.45L94.5 642.45L83.9 642.45Z" fill="#4DE97A"/><text x="113.21" y="645.49" font-size="15" textLength="18.96" lengthAdjust="spacingAndGlyphs">Na</text><path d="M83.9 658.65L94.5 658.65L89.2 667.65Z" fill="#8F8F8F"/><text x="114.4" y="667.76" font-size="15" textLength="12.64" lengthAdjust="spacingAndGlyphs">Al</text>
<path d="M412.5 767.32H419M412.5 757.69H419M412.5 748.06H419M412.5 738.43H419M412.5 728.8H425M412.5 719.17H419M412.5 709.54H419M412.5 699.91H419M412.5 690.28H419M412.5 680.65H425M412.5 671.02H419M412.5 661.39H419M412.5 651.76H419M412.5 642.13H419M412.5 632.5H425M412.5 622.87H419M412.5 613.24H419M412.5 603.61H419M412.5 593.98H419M429.68 776.95V770.95M446.86 776.95V770.95M464.04 776.95V770.95M481.22 776.95V770.95M498.4 776.95V764.95M515.58 776.95V770.95M532.76 776.95V770.95M549.94 776.95V770.95M567.12 776.95V770.95M584.3 776.95V764.95M601.48 776.95V770.95M618.66 776.95V770.95M635.84 776.95V770.95M653.02 776.95V770.95" stroke="#111111" stroke-width="1.5" fill="none"/><rect x="412.5" y="584.35" width="257.7" height="192.6" fill="none" stroke="#111111" stroke-width="1.8"/><g clip-path="url(#c5)" fill="none" stroke-width="1.65" stroke-dasharray="2.9 6.4"><path d="M412.5 775.99L664 657.57" stroke="#EBB92C"/><path d="M412.5 777.43L664 673.82" stroke="#B058EA"/><path d="M448.3 744.85L664 638.45" stroke="#4DE97A" stroke-dashoffset="7.92"/><path d="M412.5 776.95L664 692.37" stroke="#858585"/></g><g clip-path="url(#c5)"><rect x="408.4" y="772.85" width="8.2" height="8.2" fill="#EBBF32"/><rect x="444.2" y="753.11" width="8.2" height="8.2" fill="#EBBF32"/><rect x="480.6" y="735.77" width="8.2" height="8.2" fill="#EBBF32"/><rect x="515.7" y="717.96" width="8.2" height="8.2" fill="#EBBF32"/><rect x="551.5" y="706.4" width="8.2" height="8.2" fill="#EBBF32"/><rect x="587.3" y="691.19" width="8.2" height="8.2" fill="#EBBF32"/><rect x="621.7" y="674.14" width="8.2" height="8.2" fill="#EBBF32"/><rect x="659.9" y="647.9" width="8.2" height="8.2" fill="#EBBF32"/><circle cx="412.5" cy="776.95" r="4.3" fill="#B260E6"/><circle cx="448.3" cy="763.47" r="4.3" fill="#B260E6"/><circle cx="484.7" cy="747.72" r="4.3" fill="#B260E6"/><circle cx="519.8" cy="732.51" r="4.3" fill="#B260E6"/><circle cx="555.6" cy="718.69" r="4.3" fill="#B260E6"/><circle cx="591.4" cy="704" r="4.3" fill="#B260E6"/><circle cx="625.8" cy="691.48" r="4.3" fill="#B260E6"/><circle cx="664" cy="676.32" r="4.3" fill="#B260E6"/><path d="M448.3 735.32L453.6 744.32L443 744.32Z" fill="#4DE97A"/><path d="M519.8 698.73L525.1 707.73L514.5 707.73Z" fill="#4DE97A"/><path d="M555.6 688.13L560.9 697.13L550.3 697.13Z" fill="#4DE97A"/><path d="M591.4 681.87L596.7 690.87L586.1 690.87Z" fill="#4DE97A"/><path d="M625.8 659.72L631.1 668.72L620.5 668.72Z" fill="#4DE97A"/><path d="M664 616.39L669.3 625.39L658.7 625.39Z" fill="#4DE97A"/><path d="M407.2 773.95L417.8 773.95L412.5 782.95Z" fill="#8F8F8F"/><path d="M443 770.1L453.6 770.1L448.3 779.1Z" fill="#8F8F8F"/><path d="M479.4 729.65L490 729.65L484.7 738.65Z" fill="#8F8F8F"/><path d="M514.5 735.09L525.1 735.09L519.8 744.09Z" fill="#8F8F8F"/><path d="M550.3 738.17L560.9 738.17L555.6 747.17Z" fill="#8F8F8F"/><path d="M586.1 724.93L596.7 724.93L591.4 733.93Z" fill="#8F8F8F"/><path d="M620.5 698.02L631.1 698.02L625.8 707.02Z" fill="#8F8F8F"/><path d="M658.7 685.35L669.3 685.35L664 694.35Z" fill="#8F8F8F"/></g><g clip-path="url(#c5)" fill="none"><path d="M448.3 753.84V760.58M484.7 736.26V743.49M519.8 716.28V727.84M555.6 703.52V717.48M591.4 687.1V703.47M625.8 668.61V687.87M664 639.96V664.04" stroke="#EDC445" stroke-width="0.95"/><path d="M442.1 753.84H454.5M442.1 760.58H454.5M478.5 736.26H490.9M478.5 743.49H490.9M513.6 716.28H526M513.6 727.84H526M549.4 703.52H561.8M549.4 717.48H561.8M585.2 687.1H597.6M585.2 703.47H597.6M619.6 668.61H632M619.6 687.87H632M657.8 639.96H670.2M657.8 664.04H670.2" stroke="#EDC445" stroke-width="1.25"/><path d="M448.3 760.58V766.36M484.7 741.94V753.5M519.8 722.88V742.14M555.6 700.87V736.5M591.4 682.34V725.67M625.8 674.15V708.82M664 656.09V696.54" stroke="#BA70EA" stroke-width="0.95"/><path d="M442.1 760.58H454.5M442.1 766.36H454.5M478.5 741.94H490.9M478.5 753.5H490.9M513.6 722.88H526M513.6 742.14H526M549.4 700.87H561.8M549.4 736.5H561.8M585.2 682.34H597.6M585.2 725.67H597.6M619.6 674.15H632M619.6 708.82H632M657.8 656.09H670.2M657.8 696.54H670.2" stroke="#BA70EA" stroke-width="1.25"/><path d="M448.3 730.49V752.15M519.8 690.28V719.17M555.6 677.76V710.5M591.4 670.06V705.69M625.8 654.17V677.28M664 606.98V637.8" stroke="#5EE888" stroke-width="0.95"/><path d="M442.1 730.49H454.5M442.1 752.15H454.5M513.6 690.28H526M513.6 719.17H526M549.4 677.76H561.8M549.4 710.5H561.8M585.2 670.06H597.6M585.2 705.69H597.6M619.6 654.17H632M619.6 677.28H632M657.8 606.98H670.2M657.8 637.8H670.2" stroke="#5EE888" stroke-width="1.25"/><path d="M448.3 772.13V774.06M484.7 724.95V740.36M519.8 730.39V745.8M555.6 733.71V748.64M591.4 717.82V738.04M625.8 686.09V715.94M664 670.54V706.17" stroke="#A2A2A2" stroke-width="0.95"/><path d="M442.1 772.13H454.5M442.1 774.06H454.5M478.5 724.95H490.9M478.5 740.36H490.9M513.6 730.39H526M513.6 745.8H526M549.4 733.71H561.8M549.4 748.64H561.8M585.2 717.82H597.6M585.2 738.04H597.6M619.6 686.09H632M619.6 715.94H632M657.8 670.54H670.2M657.8 706.17H670.2" stroke="#A2A2A2" stroke-width="1.25"/></g><text x="375.23" y="781.8" font-size="19.2" textLength="23.13" lengthAdjust="spacingAndGlyphs">0.0</text><path d="M379.26 723.09L382.25 720.79M382.25 720.4V733.65" stroke="#222" stroke-width="1.11" fill="none"/><text x="385.09" y="733.65" font-size="19.2" textLength="13.15" lengthAdjust="spacingAndGlyphs">.0</text><text x="375.06" y="685.5" font-size="19.2" textLength="23.31" lengthAdjust="spacingAndGlyphs">2.0</text><text x="375.23" y="637.35" font-size="19.2" textLength="23.13" lengthAdjust="spacingAndGlyphs">3.0</text><text x="375.57" y="589.2" font-size="19.2" textLength="22.79" lengthAdjust="spacingAndGlyphs">4.0</text><text x="395.66" y="803.9" font-size="19.2" textLength="33.62" lengthAdjust="spacingAndGlyphs">0.00</text><text x="482.13" y="803.9" font-size="19.2" textLength="32.47" lengthAdjust="spacingAndGlyphs">0.05</text><text x="568.59" y="803.9" font-size="19.2" textLength="13.85" lengthAdjust="spacingAndGlyphs">0.</text><path d="M583.77 793.34L586.92 791.04M586.92 790.65V803.9" stroke="#222" stroke-width="1.11" fill="none"/><text x="589.91" y="803.9" font-size="19.2" textLength="9.24" lengthAdjust="spacingAndGlyphs">0</text><text x="654.12" y="803.9" font-size="19.2" textLength="14.18" lengthAdjust="spacingAndGlyphs">0.</text><path d="M669.66 793.34L672.9 791.04M672.9 790.65V803.9" stroke="#222" stroke-width="1.11" fill="none"/><text x="675.96" y="803.9" font-size="19.2" textLength="9.46" lengthAdjust="spacingAndGlyphs">5</text><text x="511.53" y="575.75" font-size="21.6" textLength="13.06" lengthAdjust="spacingAndGlyphs">B</text><path d="M526.16 563.87L529.88 561.28M529.88 560.85V575.75" stroke="#222" stroke-width="1.25" fill="none"/><text x="533.4" y="575.75" font-size="21.6" textLength="23.95" lengthAdjust="spacingAndGlyphs">0A</text><path d="M558.91 563.87L562.63 561.28M562.63 560.85V575.75" stroke="#222" stroke-width="1.25" fill="none"/><text x="496.86" y="822.85" font-size="19.5" textLength="88.57" lengthAdjust="spacingAndGlyphs">Time (days)</text><text transform="translate(361.6 680.35) rotate(-90)" font-size="17.6" text-anchor="middle">NL<tspan font-size="12" dy="4">i</tspan><tspan dy="-4"> (g.m</tspan><tspan font-size="12" dy="-7">-2</tspan><tspan dy="7">)</tspan></text><rect x="428.5" y="590.95" width="8.2" height="8.2" fill="#EBBF32"/><text x="457.14" y="600.95" font-size="15" textLength="11.74" lengthAdjust="spacingAndGlyphs">Si</text><circle cx="432.6" cy="617.25" r="4.3" fill="#B260E6"/><text x="456.73" y="623.22" font-size="15" textLength="8.89" lengthAdjust="spacingAndGlyphs">B</text><path d="M432.6 633.45L437.9 642.45L427.3 642.45Z" fill="#4DE97A"/><text x="456.61" y="645.49" font-size="15" textLength="18.96" lengthAdjust="spacingAndGlyphs">Na</text><path d="M427.3 658.65L437.9 658.65L432.6 667.65Z" fill="#8F8F8F"/><text x="457.8" y="667.76" font-size="15" textLength="12.64" lengthAdjust="spacingAndGlyphs">Al</text>
</svg></body></html>
